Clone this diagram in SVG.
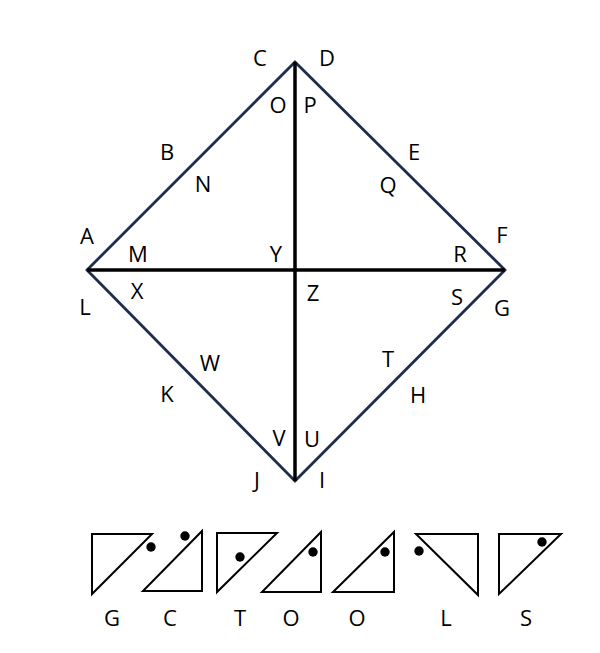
<svg xmlns="http://www.w3.org/2000/svg" width="600" height="653" viewBox="0 0 600 653">
<style>
.lbl{font-family:"Open Sans","Liberation Sans",sans-serif;font-size:22px;fill:#000;text-anchor:middle;dominant-baseline:central}
.edge{stroke:#1f2d4d;stroke-width:2.8;fill:none;stroke-linecap:round}
.axis{stroke:#000;stroke-width:3.5;fill:none}
.tri{stroke:#000;stroke-width:2;fill:#fff;stroke-linejoin:miter}
.dot{fill:#000}
</style>
<rect width="600" height="653" fill="#fff"/>
<g id="connectors">
<path class="edge" d="M295,62 L505,270 L295,481 L87,270 Z"/>
<line class="axis" x1="87" y1="270" x2="505" y2="270"/>
<line class="axis" x1="295" y1="62" x2="295" y2="481"/>
</g>
<g id="labels">
<text class="lbl" x="260" y="57">C</text>
<text class="lbl" x="327" y="57">D</text>
<text class="lbl" x="278" y="104">O</text>
<text class="lbl" x="310" y="104">P</text>
<text class="lbl" x="167" y="151">B</text>
<text class="lbl" x="414" y="151">E</text>
<text class="lbl" x="203" y="183">N</text>
<text class="lbl" x="388" y="184">Q</text>
<text class="lbl" x="87" y="235">A</text>
<text class="lbl" x="502" y="234">F</text>
<text class="lbl" x="138" y="253">M</text>
<text class="lbl" x="276" y="253">Y</text>
<text class="lbl" x="460" y="253">R</text>
<text class="lbl" x="137" y="290">X</text>
<text class="lbl" x="313" y="292">Z</text>
<text class="lbl" x="457" y="296">S</text>
<text class="lbl" x="85" y="306">L</text>
<text class="lbl" x="502" y="307">G</text>
<text class="lbl" x="210" y="362">W</text>
<text class="lbl" x="388" y="358">T</text>
<text class="lbl" x="167" y="393">K</text>
<text class="lbl" x="418" y="394">H</text>
<text class="lbl" x="279" y="437">V</text>
<text class="lbl" x="312" y="438">U</text>
<text class="lbl" x="257" y="479">J</text>
<text class="lbl" x="322" y="479">I</text>
</g>
<g id="tile-G">
<polygon class="tri" points="92,534 152,534 92,594"/>
<text class="lbl" x="112" y="617">G</text>
</g>
<g id="tile-C">
<polygon class="tri" points="143,591 202,591 202,531"/>
<circle class="dot" cx="151" cy="547" r="4.7"/>
<circle class="dot" cx="185" cy="536" r="4.7"/>
<text class="lbl" x="170" y="617">C</text>
</g>
<g id="tile-T">
<polygon class="tri" points="217,533 277,533 217,592"/>
<circle class="dot" cx="240" cy="557" r="4.7"/>
<text class="lbl" x="240" y="617">T</text>
</g>
<g id="tile-O1">
<polygon class="tri" points="262,592 321,592 321,532"/>
<circle class="dot" cx="313" cy="552" r="4.7"/>
<text class="lbl" x="291" y="617">O</text>
</g>
<g id="tile-O2">
<polygon class="tri" points="333,592 394,592 394,532"/>
<circle class="dot" cx="385" cy="552" r="4.7"/>
<text class="lbl" x="357" y="617">O</text>
</g>
<g id="tile-L">
<polygon class="tri" points="416,534 478,534 478,595"/>
<circle class="dot" cx="419" cy="551" r="4.7"/>
<text class="lbl" x="446" y="617">L</text>
</g>
<g id="tile-S">
<polygon class="tri" points="499,534 561,534 499,594"/>
<circle class="dot" cx="542" cy="542" r="4.7"/>
<text class="lbl" x="526" y="617">S</text>
</g>
</svg>
